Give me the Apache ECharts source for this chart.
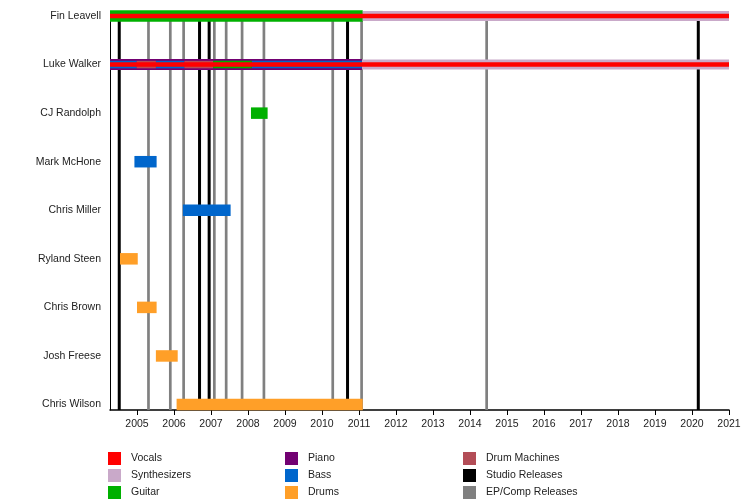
<!DOCTYPE html>
<html>
<head>
<meta charset="utf-8">
<script src="https://cdn.jsdelivr.net/npm/echarts@6/dist/echarts.min.js"></script>
<style>
html,body{margin:0;padding:0;background:#fff;}
#chart{width:750px;height:500px;}
</style>
</head>
<body>
<div id="chart"></div>
<script>
// ---- data ----
const members = ['Fin Leavell','Luke Walker','CJ Randolph','Mark McHone','Chris Miller','Ryland Steen','Chris Brown','Josh Freese','Chris Wilson'];
const periodStart = 2004.27;
const periodEnd = 2021;
const yearTicks = [2005,2006,2007,2008,2009,2010,2011,2012,2013,2014,2015,2016,2017,2018,2019,2020,2021];

// main (full-width) bars: [member, from, till]
const guitar = [['Fin Leavell',2004.27,2011.1],['CJ Randolph',2008.08,2008.53]];
const piano = [['Luke Walker',2004.27,2011.08]];
const synthesizers = [['Fin Leavell',2011.1,2021],['Luke Walker',2011.08,2021]];
const bass = [['Mark McHone',2004.93,2005.53],['Chris Miller',2006.24,2007.53]];
const drums = [['Ryland Steen',2004.54,2005.02],['Chris Brown',2005.0,2005.53],['Josh Freese',2005.51,2006.1],['Chris Wilson',2006.07,2011.1]];
// secondary (inner) bars
const bassInner = [['Luke Walker',2004.27,2004.99],['Luke Walker',2005.51,2006.28],['Luke Walker',2008.1,2011.08]];
const drumMachinesInner = [['Luke Walker',2004.99,2005.51],['Luke Walker',2006.28,2007.06]];
const guitarInner = [['Luke Walker',2007.06,2008.1]];
// vocals (thin centre line)
const vocals = [['Fin Leavell',2004.27,2021],['Luke Walker',2004.27,2021]];
// release lines
const studioReleases = [2004.52,2006.69,2006.95,2010.69,2020.17];
const epReleases = [2005.31,2005.90,2006.26,2007.09,2007.41,2007.84,2008.43,2010.29,2011.07,2014.45];

// ---- styling ----
const colors = {
  Vocals:'#ff0000', Synthesizers:'#c9a9c9', Guitar:'#00b000', Piano:'#720072', Bass:'#0066cc',
  Drums:'#ff9f28', 'Drum Machines':'#b34d57', 'Studio Releases':'#000000', 'EP/Comp Releases':'#808080'
};
const FONT = 'Liberation Sans, Arial, sans-serif';
const rowOf = name => members.length - 1 - members.indexOf(name);
const toData = arr => arr.map(d => [d[1], d[2], rowOf(d[0])]);

function barSeries(name, arr, thickness, z) {
  return {
    type:'custom', name, z, itemStyle:{color:colors[name]},
    encode:{x:[0,1], y:2},
    data: toData(arr),
    renderItem(params, api) {
      const s = api.coord([api.value(0), api.value(2)]);
      const e = api.coord([api.value(1), api.value(2)]);
      return {type:'rect', shape:{x:s[0], y:s[1]-thickness/2, width:e[0]-s[0], height:thickness},
              style:{fill: api.visual('color')}};
    }
  };
}
function lineSeries(name, arr, width) {
  return {
    type:'custom', name, z:1, itemStyle:{color:colors[name]},
    encode:{x:0, y:1},
    data: arr.map(v => [v, 0]),
    renderItem(params, api) {
      const x = api.coord([api.value(0), 0])[0];
      const cs = params.coordSys;
      return {type:'line', shape:{x1:x, y1:cs.y, x2:x, y2:cs.y+cs.height},
              style:{stroke: api.visual('color'), lineWidth: width}};
    }
  };
}

const legendBase = {
  orient:'vertical', top:452, itemWidth:13, itemHeight:13, itemGap:4, padding:0,
  icon:'rect', selectedMode:false,
  textStyle:{fontSize:10.5, color:'#222', fontFamily:FONT, padding:[0,0,0,5]}
};

const chart = echarts.init(document.getElementById('chart'));
chart.setOption({
  animation:false,
  backgroundColor:'#fff',
  grid:{left:110, right:21, top:11.5, bottom:90},
  xAxis:{
    type:'value', min:periodStart, max:periodEnd,
    splitLine:{show:false},
    axisLine:{onZero:false, lineStyle:{color:'#000', width:1.5}},
    axisTick:{customValues:yearTicks, length:5, lineStyle:{color:'#000', width:1}},
    axisLabel:{customValues:yearTicks, fontSize:10.5, color:'#222', fontFamily:FONT, margin:9,
               formatter: v => String(Math.round(v))}
  },
  yAxis:{
    type:'value', min:-0.113, max:8.093,
    splitLine:{show:false},
    axisLine:{show:true, onZero:false, lineStyle:{color:'#000', width:1}},
    axisTick:{show:false},
    axisLabel:{customValues:members.map((m,i)=>i), fontSize:10.5, color:'#222', fontFamily:FONT, margin:9,
               formatter: v => members[members.length-1-Math.round(v)]}
  },
  legend:[
    Object.assign({}, legendBase, {left:108, data:['Vocals','Synthesizers','Guitar']}),
    Object.assign({}, legendBase, {left:285, data:['Piano','Bass','Drums']}),
    Object.assign({}, legendBase, {left:463, data:['Drum Machines','Studio Releases','EP/Comp Releases']})
  ],
  series:[
    lineSeries('EP/Comp Releases', epReleases, 2.7),
    lineSeries('Studio Releases', studioReleases, 3),
    barSeries('Guitar', guitar, 11.5, 2),
    barSeries('Piano', piano, 11, 2),
    barSeries('Synthesizers', synthesizers, 10, 2),
    barSeries('Bass', bass, 11.5, 2),
    barSeries('Drums', drums, 11.5, 2),
    barSeries('Bass', bassInner, 7.5, 3),
    barSeries('Drum Machines', drumMachinesInner, 7.5, 3),
    barSeries('Guitar', guitarInner, 7.5, 3),
    barSeries('Vocals', vocals, 4.5, 4)
  ]
});
</script>
</body>
</html>
